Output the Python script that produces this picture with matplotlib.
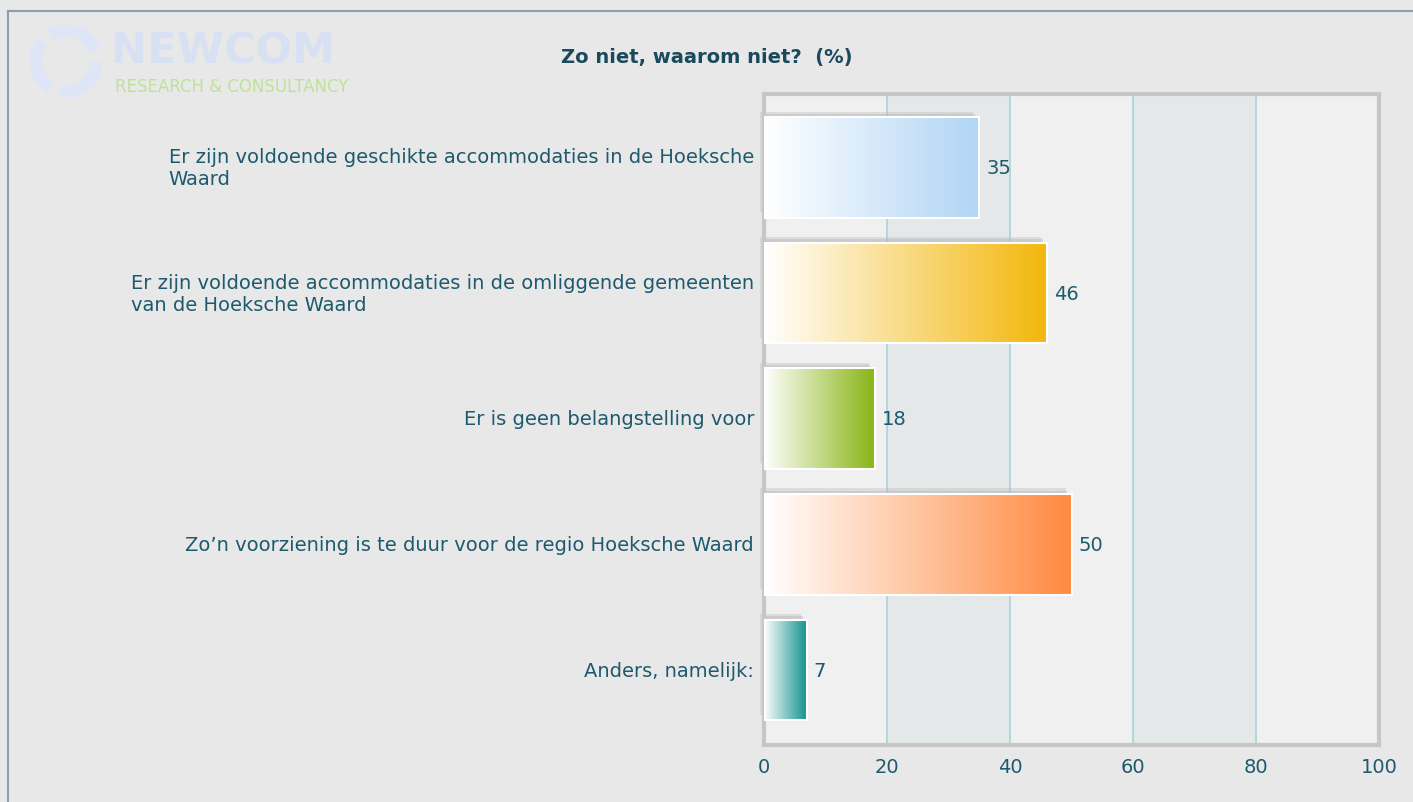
import numpy as np
import matplotlib
matplotlib.use("Agg")
import matplotlib.pyplot as plt
from matplotlib.colors import LinearSegmentedColormap
from matplotlib.patches import Rectangle, Arc
import matplotlib.transforms as mtransforms

categories = [
    "Er zijn voldoende geschikte accommodaties in de Hoeksche\nWaard",
    "Er zijn voldoende accommodaties in de omliggende gemeenten\nvan de Hoeksche Waard",
    "Er is geen belangstelling voor",
    "Zo\u2019n voorziening is te duur voor de regio Hoeksche Waard",
    "Anders, namelijk:",
]
values = [35, 46, 18, 50, 7]
bar_colors = ["#b0d5f4", "#f3b70c", "#88b514", "#ff8a40", "#0e8f8c"]
xticks = [0, 20, 40, 60, 80, 100]
title = "Zo niet, waarom niet?  (%)"

TXT = "#1d5a6e"
FS = 14

fig = plt.figure(figsize=(14.13, 8.03), dpi=100)
fig.patch.set_facecolor("#e8e8e8")

# outer border
fig.add_artist(plt.Line2D([8/1413, 8/1413], [0, 1-12/803], color="#8e9eae", lw=1.5))
fig.add_artist(plt.Line2D([8/1413, 1], [1-12/803, 1-12/803], color="#8e9eae", lw=1.5))

# logo (faint)
fig.text(111/1413, 1-51/803, "NEWCOM", fontsize=31, fontweight="bold", color="#d8e1f4",
         ha="left", va="center", family="DejaVu Sans")
fig.text(115/1413, 1-87/803, "RESEARCH & CONSULTANCY", fontsize=12, color="#bfe29a",
         ha="left", va="center", family="DejaVu Sans")
lax = fig.add_axes([30/1413, 1-98/803, 72/1413, 72/803])
lax.set_xlim(-1, 1); lax.set_ylim(-1, 1); lax.axis("off")
for a0 in (20, 140, 260):
    lax.add_patch(Arc((0, 0), 1.7, 1.7, theta1=a0, theta2=a0+100, lw=9, color="#dde5f6"))

ax = fig.add_axes([764/1413, 57/803, 615/1413, 651/803])
ax.set_facecolor("#f0f0f0")

# alternating bands
for a, b in [(20, 40), (60, 80)]:
    ax.axvspan(a, b, color="#e5e8e9", zorder=0, lw=0)
for x in xticks[1:-1]:
    ax.axvline(x, color="#a9d3da", lw=1.2, zorder=1)

h = 0.8
dx_sh = 0.65
dy_sh = 0.045
for i, (v, c) in enumerate(zip(values, bar_colors)):
    y0, y1 = i - h/2, i + h/2
    # soft shadow
    for k, al in [(1.0, 0.35), (0.6, 0.45)]:
        ax.add_patch(Rectangle((-dx_sh*k, y0 - dy_sh*k), v - 0.3, h, facecolor="#b8b8b8",
                               edgecolor="none", alpha=al, zorder=2, clip_on=False))
    cmap = LinearSegmentedColormap.from_list("g%d" % i, ["#ffffff", c])
    grad = np.linspace(0, 1, 256).reshape(1, -1)
    ax.imshow(grad, cmap=cmap, extent=(0, v, y1, y0), aspect="auto", zorder=3,
              interpolation="bilinear")
    ax.add_patch(Rectangle((0, y0), v, h, facecolor="none", edgecolor="white",
                           lw=1.5, zorder=4))
    ax.text(v + 1.1, i, str(v), ha="left", va="center", fontsize=FS, color=TXT, zorder=5)

ax.set_xlim(0, 100)
ax.set_ylim(4.597, -0.585)

# category labels
tr = mtransforms.blended_transform_factory(ax.transAxes, ax.transData)
for i, cat in enumerate(categories):
    ax.text(0, i, cat, transform=mtransforms.offset_copy(tr, fig=fig, x=-10, y=0, units="dots"),
            ha="right", va="center", multialignment="left", fontsize=FS, color=TXT,
            linespacing=1.2)

ax.set_yticks([])
ax.set_xticks(xticks)
ax.set_xticklabels([str(t) for t in xticks], fontsize=FS, color=TXT)
ax.tick_params(axis="x", length=0, pad=9)
for s in ax.spines.values():
    s.set_color("#c6c6c6")
    s.set_linewidth(3)

fig.text(707/1413, 1-58/803, title, ha="center", va="center", fontsize=14,
         fontweight="bold", color="#1a4a5c")

fig.savefig("out.png", dpi=100, facecolor=fig.get_facecolor())
